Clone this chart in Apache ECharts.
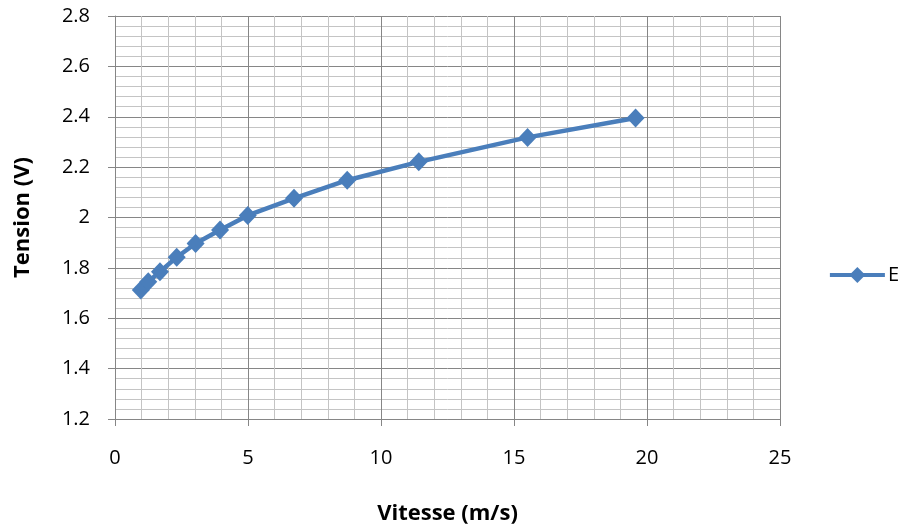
<!DOCTYPE html>
<html>
<head>
<meta charset="utf-8">
<script src="https://cdn.jsdelivr.net/npm/echarts@6/dist/echarts.min.js"></script>
<style>html,body{margin:0;padding:0;background:#fff}#c{width:905px;height:530px}</style>
</head>
<body>
<div id="c"></div>
<script>
const vitesse = [0.97, 1.25, 1.69, 2.32, 3.03, 3.95, 4.99, 6.73, 8.73, 11.42, 15.51, 19.57];
const tension = [1.712, 1.745, 1.785, 1.842, 1.897, 1.95, 2.008, 2.076, 2.148, 2.221, 2.318, 2.395];
const seriesName = 'E';
const xTitle = 'Vitesse (m/s)';
const yTitle = 'Tension (V)';

const font = '"Open Sans", "Liberation Sans", sans-serif';
const chart = echarts.init(document.getElementById('c'));
chart.setOption({
  animation: false,
  grid: {left: 115, right: 125, top: 16, bottom: 111, containLabel: false},
  legend: {
    right: 1, top: 260, orient: 'vertical',
    itemWidth: 55, itemHeight: 20, itemGap: 4,
    lineStyle: {width: 4},
    textStyle: {fontFamily: font, fontSize: 20, color: '#000', padding: [0,0,0,-2]},
    data: [seriesName]
  },
  xAxis: {
    type: 'value', min: 0, max: 25, interval: 5,
    name: xTitle, nameLocation: 'middle', nameGap: 84,
    nameTextStyle: {fontFamily: font, fontSize: 22, fontWeight: 'bold', color: '#000'},
    axisLine: {show: true, lineStyle: {color: '#868686', width: 1}},
    axisTick: {show: true, length: 7, lineStyle: {color: '#868686'}},
    axisLabel: {fontFamily: font, fontSize: 20, color: '#000', margin: 29},
    splitLine: {show: true, lineStyle: {color: '#868686', width: 1}},
    minorTick: {show: false, splitNumber: 5},
    minorSplitLine: {show: true, lineStyle: {color: '#c4c4c4', width: 1}}
  },
  yAxis: {
    type: 'value', min: 1.2, max: 2.8, interval: 0.2,
    name: yTitle, nameLocation: 'middle', nameGap: 81, nameRotate: 90,
    nameTextStyle: {fontFamily: font, fontSize: 22, fontWeight: 'bold', color: '#000'},
    axisLine: {show: true, lineStyle: {color: '#868686', width: 1}},
    axisTick: {show: true, length: 7, lineStyle: {color: '#868686'}},
    axisLabel: {fontFamily: font, fontSize: 20, color: '#000', margin: 25,
      formatter: v => String(Math.round(v*10)/10)},
    splitLine: {show: true, lineStyle: {color: '#868686', width: 1}},
    minorTick: {show: false, splitNumber: 5},
    minorSplitLine: {show: true, lineStyle: {color: '#c4c4c4', width: 1}}
  },
  series: [{
    name: seriesName, type: 'line',
    data: vitesse.map((v, i) => [v, tension[i]]),
    symbol: 'diamond', symbolSize: [18, 19],
    lineStyle: {color: '#4a7ebb', width: 4.5},
    itemStyle: {color: '#4a7ebb'}
  }]
});
</script>
</body>
</html>
